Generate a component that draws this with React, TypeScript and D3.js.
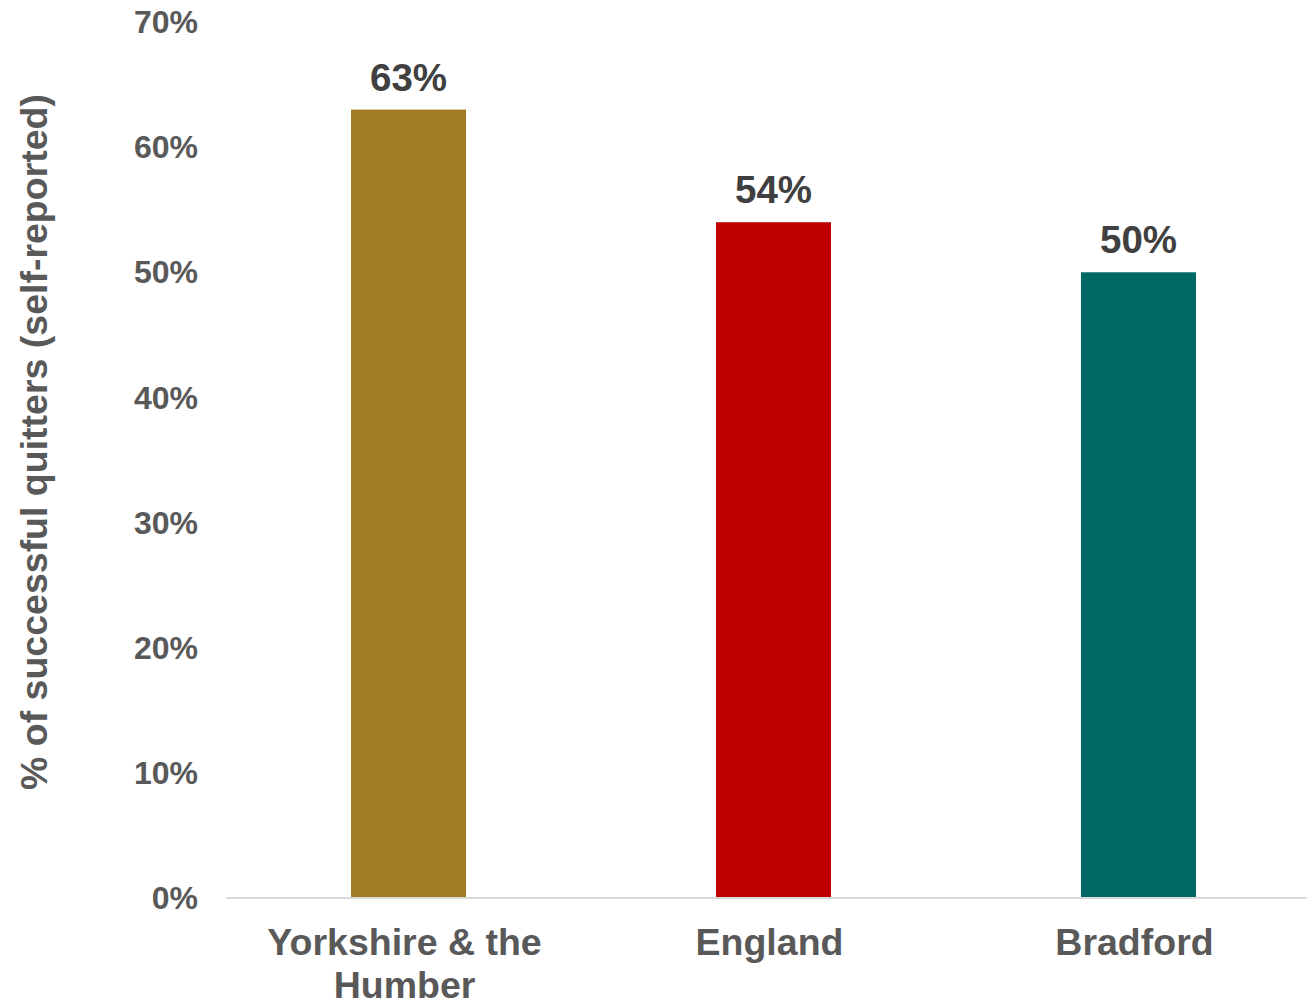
import React from "react";
import * as d3 from "d3";

const categories: string[][] = [["Yorkshire & the", "Humber"], ["England"], ["Bradford"]];
const values: number[] = [63, 54, 50];
const colors: string[] = ["#A17C22", "#C00000", "#006865"];
const yTicks: number[] = [0, 10, 20, 30, 40, 50, 60, 70];
const yTitle = "% of successful quitters (self-reported)";

export default function App() {
  const W = 1307, H = 1001;
  const x0 = 226, x1 = 1321;
  const y = d3.scaleLinear().domain([0, 70]).range([898, 22]);
  const x = d3.scaleBand<number>().domain([0, 1, 2]).range([x0, x1]).paddingInner(0).paddingOuter(0);
  const barW = 115;
  const font = "'Liberation Sans', Arial, sans-serif";
  return (
    <svg width={W} height={H} style={{ position: "absolute", left: 0, top: 0, background: "#fff" }} fontFamily={font}>
      {yTicks.map((t) => (
        <text key={t} x={198} y={y(t)} dy="0.35em" textAnchor="end" fontSize={32} fontWeight="bold" fill="#595959">
          {`${t}%`}
        </text>
      ))}
      {values.map((v, i) => {
        const cx = (x(i) as number) + x.bandwidth() / 2;
        return (
          <g key={i}>
            <rect x={cx - barW / 2} y={y(v)} width={barW} height={y(0) - y(v)} fill={colors[i]} />
            <text x={cx} y={y(v) - 19} textAnchor="middle" fontSize={38.5} fontWeight="bold" fill="#404040">
              {`${v}%`}
            </text>
            {categories[i].map((line, j) => (
              <text key={j} x={cx - 4} y={955 + j * 43} textAnchor="middle" fontSize={37.5} fontWeight="bold" fill="#595959">
                {line}
              </text>
            ))}
          </g>
        );
      })}
      <line x1={x0} x2={W} y1={y(0)} y2={y(0)} stroke="#D9D9D9" strokeWidth={2} />
      <text transform={`translate(47, 442) rotate(-90)`} textAnchor="middle" fontSize={37.5} fontWeight="bold" fill="#595959">
        {yTitle}
      </text>
    </svg>
  );
}
